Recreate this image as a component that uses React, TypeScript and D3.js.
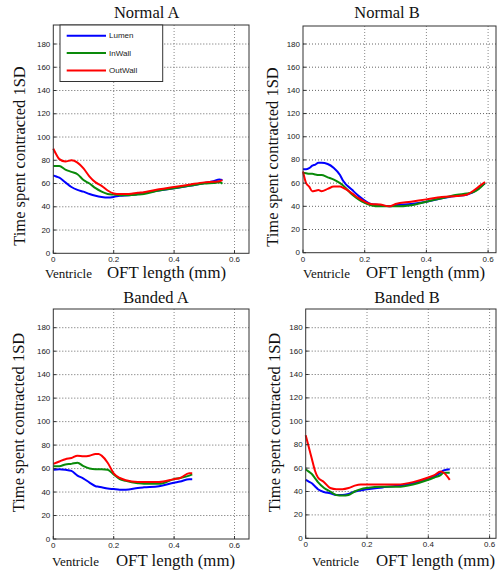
import React from "react";
import * as d3 from "d3";

const seriesNames = ["Lumen", "InWall", "OutWall"];
const seriesColors = ["#0000ff", "#0a8a0a", "#ff0000"];
const yTicks = [0, 20, 40, 60, 80, 100, 120, 140, 160, 180];
const xTicks = [0, 0.2, 0.4, 0.6];
const xTickLabels = ["0", "0.2", "0.4", "0.6"];
const panelTitles = ["Normal A", "Normal B", "Banded A", "Banded B"];
const yAxisTitle = "Time spent contracted 1SD";
const xAxisTitle = "OFT length (mm)";
const xAxisNote = "Ventricle";

// Normal A
const normalAX = [0, 0.01, 0.02, 0.04, 0.06, 0.08, 0.1, 0.12, 0.14, 0.16, 0.18, 0.2, 0.22, 0.25, 0.28, 0.3, 0.35, 0.4, 0.45, 0.5, 0.53, 0.55, 0.56];
const normalALumen = [67, 66, 65, 61, 57, 54.5, 53, 51, 49.5, 48.5, 48, 48.5, 49.5, 50, 51, 52, 54, 56, 58, 60.5, 62, 63.5, 63];
const normalAInWall = [75, 75, 75, 72, 70, 68, 63, 60, 56, 53, 51, 50.5, 50, 50, 50.5, 51, 54, 56, 58, 60, 60.5, 61, 60];
const normalAOutWall = [90, 85, 81, 79, 80, 78, 73, 66, 61, 58, 54, 51.5, 51, 51, 52, 52.5, 55, 57, 59, 61, 61.5, 62, 63];

// Normal B
const normalBX = [0, 0.01, 0.02, 0.03, 0.04, 0.05, 0.06, 0.08, 0.1, 0.12, 0.13, 0.16, 0.18, 0.2, 0.22, 0.25, 0.28, 0.3, 0.35, 0.4, 0.45, 0.5, 0.53, 0.55, 0.57, 0.59];
const normalBLumen = [72, 72, 73, 75, 76, 77.5, 77.5, 76.5, 73, 67, 62, 54, 49, 45, 42, 41, 40, 41, 42, 44, 47, 49, 50, 52, 56, 60];
const normalBInWall = [69, 68.5, 68, 68, 67.5, 67, 67, 65, 63, 60, 58, 50, 46, 43, 41, 40, 40, 40, 41, 44, 47, 50, 51, 52, 55, 60];
const normalBOutWall = [70, 60, 57, 53, 53.5, 54, 53, 55, 57, 57, 56, 51, 47, 44, 42, 41.5, 40, 42, 44, 46, 48, 49, 50, 53, 57, 61];

// Banded A
const bandedAX = [0, 0.02, 0.04, 0.06, 0.08, 0.1, 0.12, 0.14, 0.15, 0.16, 0.18, 0.2, 0.22, 0.24, 0.28, 0.3, 0.35, 0.4, 0.42, 0.45, 0.46];
const bandedALumen = [59, 59.5, 59, 58, 54, 51.5, 48, 45, 44.5, 44, 43, 42.5, 42, 42, 43.5, 44, 45, 48, 49, 51, 51];
const bandedAInWall = [62, 62, 63.5, 64, 65, 62, 60, 59.5, 59.5, 59.5, 59, 55, 51, 49.5, 47.5, 47, 47, 51, 52, 54, 55];
const bandedAOutWall = [64, 66, 68, 69, 71, 70.5, 71, 72.5, 72.5, 71, 65, 56, 52, 50, 48.5, 48.5, 48.5, 51, 52, 56, 56];

// Banded B
const bandedBX = [0, 0.01, 0.02, 0.03, 0.04, 0.06, 0.08, 0.1, 0.12, 0.14, 0.16, 0.18, 0.2, 0.25, 0.3, 0.35, 0.4, 0.42, 0.44, 0.45, 0.47];
const bandedBLumen = [50, 48.5, 47, 44.5, 42, 39.5, 38.5, 37, 37, 38, 40, 41, 42, 43.5, 45, 47, 51, 53, 56, 58, 59];
const bandedBInWall = [59, 57, 55, 51.5, 48, 43, 40, 37, 36.5, 37, 40, 42, 43, 44, 44, 46, 50, 52, 54, 56, 56];
const bandedBOutWall = [88, 78, 68, 58, 52, 48, 43, 42, 42, 43, 45, 46, 46, 46, 46, 48, 52, 54, 57, 56, 50];

const panelData = [
  { x: normalAX, ys: [normalALumen, normalAInWall, normalAOutWall] },
  { x: normalBX, ys: [normalBLumen, normalBInWall, normalBOutWall] },
  { x: bandedAX, ys: [bandedALumen, bandedAInWall, bandedAOutWall] },
  { x: bandedBX, ys: [bandedBLumen, bandedBInWall, bandedBOutWall] },
];

const layouts = [
  { left: 53.3, right: 249, top: 25, bottom: 253.3, y180: 44, x02: 113.7, titleX: 146.7, titleY: 18, yLabX: 24.5, yLabY: 156, ventX: 45, oftX: 107, labY: 278, legend: true },
  { left: 303, right: 496, top: 26, bottom: 252.7, y180: 44, x02: 364.7, titleX: 387, titleY: 18, yLabX: 278, yLabY: 157, ventX: 303, oftX: 366, labY: 278, legend: false },
  { left: 53.3, right: 249, top: 309, bottom: 539, y180: 327.7, x02: 113.7, titleX: 156, titleY: 303, yLabX: 24, yLabY: 422.5, ventX: 52, oftX: 116, labY: 565.5, legend: false },
  { left: 305.7, right: 496, top: 309, bottom: 538.3, y180: 327.7, x02: 367, titleX: 407, titleY: 303, yLabX: 279.5, yLabY: 422.5, ventX: 312, oftX: 376, labY: 566, legend: false },
];

const serifStyle = { fontFamily: '"Liberation Serif", "Times New Roman", Times, "DejaVu Serif", serif' };
const sansStyle = { fontFamily: '"Liberation Sans", Arial, Helvetica, sans-serif' };

function Panel({ idx }: { idx: number }) {
  const L = layouts[idx];
  const D = panelData[idx];
  const x = d3.scaleLinear().domain([0, 0.2]).range([L.left, L.x02]);
  const y = d3.scaleLinear().domain([0, 180]).range([L.bottom, L.y180]);
  const line = d3
    .line<[number, number]>()
    .x((d) => x(d[0]))
    .y((d) => y(d[1]))
    .curve(d3.curveMonotoneX);
  return (
    <g>
      <rect x={L.left} y={L.top} width={L.right - L.left} height={L.bottom - L.top} fill="#fff" />
      {yTicks.filter((t) => t > 0).map((t) => (
        <line key={"gy" + t} x1={L.left} x2={L.right} y1={y(t)} y2={y(t)} stroke="#666" strokeWidth={1} strokeDasharray="1,2" />
      ))}
      {xTicks.filter((t) => t > 0 && x(t) < L.right - 1).map((t) => (
        <line key={"gx" + t} x1={x(t)} x2={x(t)} y1={L.top} y2={L.bottom} stroke="#888" strokeWidth={1} strokeDasharray="1,2" />
      ))}
      {D.ys.map((ys, si) => (
        <path
          key={si}
          d={line(D.x.map((xv, i) => [xv, ys[i]] as [number, number])) || ""}
          fill="none"
          stroke={seriesColors[si]}
          strokeWidth={2}
          strokeLinejoin="round"
        />
      ))}
      <rect x={L.left} y={L.top} width={L.right - L.left} height={L.bottom - L.top} fill="none" stroke="#333" strokeWidth={1} />
      {yTicks.map((t) => (
        <g key={"ty" + t}>
          <line x1={L.left} x2={L.left + 3} y1={y(t)} y2={y(t)} stroke="#333" />
          <text x={L.left - 3} y={y(t)} textAnchor="end" dominantBaseline="central" style={sansStyle} fontSize={8} fill="#222">
            {t}
          </text>
        </g>
      ))}
      {xTicks.map((t, i) => (
        <g key={"tx" + t}>
          <line x1={x(t)} x2={x(t)} y1={L.bottom} y2={L.bottom - 3} stroke="#333" />
          <text x={x(t)} y={L.bottom + 9} textAnchor="middle" style={sansStyle} fontSize={8} fill="#222">
            {xTickLabels[i]}
          </text>
        </g>
      ))}
      <text x={L.titleX} y={L.titleY} textAnchor="middle" style={serifStyle} fontSize={16.5} fill="#111">
        {panelTitles[idx]}
      </text>
      <text
        transform={`translate(${L.yLabX},${L.yLabY}) rotate(-90)`}
        textAnchor="middle"
        style={serifStyle}
        fontSize={16.5}
        fill="#111"
      >
        {yAxisTitle}
      </text>
      <text x={L.ventX} y={L.labY} style={serifStyle} fontSize={13} fill="#111">
        {xAxisNote}
      </text>
      <text x={L.oftX} y={L.labY} style={serifStyle} fontSize={16.8} fill="#111">
        {xAxisTitle}
      </text>
      {L.legend && (
        <g>
          <rect x={60} y={25} width={102.7} height={56.5} fill="#fff" stroke="#333" strokeWidth={1} />
          {seriesNames.map((n, i) => (
            <g key={n}>
              <line x1={66.7} x2={106} y1={35.8 + i * 17.3} y2={35.8 + i * 17.3} stroke={seriesColors[i]} strokeWidth={2} />
              <text x={109} y={35.8 + i * 17.3} dominantBaseline="central" style={sansStyle} fontSize={8} fill="#222">
                {n}
              </text>
            </g>
          ))}
        </g>
      )}
    </g>
  );
}

export default function App() {
  return (
    <div style={{ position: "absolute", left: 0, top: 0 }}>
      <svg width={497} height={572} style={{ display: "block", background: "#fff" }}>
        {[0, 1, 2, 3].map((i) => (
          <Panel key={i} idx={i} />
        ))}
      </svg>
    </div>
  );
}
